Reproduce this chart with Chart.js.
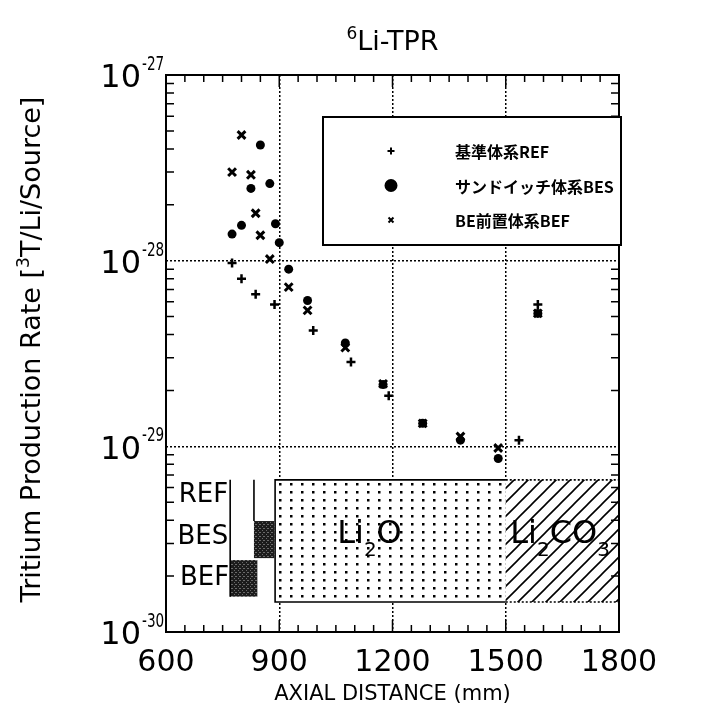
<!DOCTYPE html>
<html>
<head>
<meta charset="utf-8">
<script src="https://cdn.jsdelivr.net/npm/chart.js@4.4.1/dist/chart.umd.min.js"></script>
<style>
  html, body { margin: 0; padding: 0; background: #fff; }
  #wrap { width: 701px; height: 718px; }
</style>
</head>
<body>
<div id="wrap"><canvas id="c"></canvas></div>
<script>
// datos (mm, T/Li/Source)
const refX = [775, 800, 837.5, 887.5, 990, 1090, 1190, 1535, 1585];
const refY = [9.7e-29, 8.0e-29, 6.6e-29, 5.8e-29, 4.2e-29, 2.85e-29, 1.87e-29, 1.08e-29, 5.8e-29];

const besX = [775, 800, 825, 850, 875, 890, 900, 925, 975, 1075, 1175, 1280, 1380, 1480, 1585];
const besY = [1.39e-28, 1.55e-28, 2.45e-28, 4.2e-28, 2.6e-28, 1.58e-28, 1.25e-28, 9.0e-29, 6.1e-29, 3.6e-29, 2.15e-29, 1.33e-29, 1.08e-29, 8.6e-30, 5.2e-29];

const befX = [775, 800, 825, 837.5, 850, 875, 925, 975, 1075, 1175, 1280, 1380, 1480, 1585];
const befY = [3.0e-28, 4.75e-28, 2.9e-28, 1.8e-28, 1.37e-28, 1.02e-28, 7.2e-29, 5.4e-29, 3.4e-29, 2.17e-29, 1.33e-29, 1.13e-29, 9.8e-30, 5.2e-29];

const seriesLabels = ['基準体系REF', 'サンドイッチ体系BES', 'BE前置体系BEF'];
const xTicks = [600, 900, 1200, 1500, 1800];
const yDecades = [-30, -29, -28, -27];

const FONT = '"DejaVu Sans", sans-serif';

function toPoints(xs, ys) {
    return xs.map((x, i) => ({ x: x, y: ys[i] }));
}

// patrones de relleno
function makePattern(ctx, w, h, draw) {
    const c = document.createElement('canvas');
    c.width = w; c.height = h;
    const g = c.getContext('2d');
    draw(g);
    return ctx.createPattern(c, 'repeat');
}

function dots(ctx) {
    return makePattern(ctx, 11, 8, g => {
        g.fillStyle = '#fff'; g.fillRect(0, 0, 11, 8);
        g.fillStyle = '#000'; g.fillRect(4, 3, 2.5, 2.5);
    });
}

function hatch(ctx) {
    return makePattern(ctx, 14, 14, g => {
        g.fillStyle = '#fff'; g.fillRect(0, 0, 14, 14);
        g.strokeStyle = '#000'; g.lineWidth = 1.6;
        g.beginPath();
        g.moveTo(-2, 16); g.lineTo(16, -2);
        g.moveTo(-2, 2); g.lineTo(2, -2);
        g.moveTo(12, 16); g.lineTo(16, 12);
        g.stroke();
    });
}

function stipple(ctx) {
    return makePattern(ctx, 4, 4, g => {
        g.fillStyle = '#1c1c1c'; g.fillRect(0, 0, 4, 4);
        g.fillStyle = '#6a6a6a';
        g.fillRect(0, 0, 1, 1); g.fillRect(2, 2, 1, 1); g.fillRect(3, 0, 1, 1);
    });
}

// texto con subindices / superindices: partes [texto, tipo]
function richText(ctx, parts, x, y, size, align) {
    const small = Math.round(size * 0.62);
    let total = 0;
    parts.forEach(p => {
        ctx.font = (p[1] ? small : size) + 'px ' + FONT;
        total += ctx.measureText(p[0]).width;
    });
    let cx = align === 'center' ? x - total / 2 : x;
    ctx.textAlign = 'left';
    ctx.textBaseline = 'alphabetic';
    parts.forEach(p => {
        ctx.font = (p[1] ? small : size) + 'px ' + FONT;
        let dy = 0;
        if (p[1] === 'sup') dy = -size * 0.42;
        if (p[1] === 'sub') dy = size * 0.42;
        ctx.fillText(p[0], cx, y + dy);
        cx += ctx.measureText(p[0]).width;
    });
    return total;
}

// esquema del sistema (en unidades de datos)
const decoPlugin = {
    id: 'deco',
    beforeDatasetsDraw(chart) {
        const ctx = chart.ctx;
        const xs = chart.scales.x, ys = chart.scales.y;
        const px = v => xs.getPixelForValue(v);
        const py = v => ys.getPixelForValue(v);
        const top = py(6.6e-30), bot = py(1.45e-30);
        const right = chart.chartArea.right;

        ctx.save();
        // Li2O
        ctx.fillStyle = dots(ctx);
        ctx.fillRect(px(889), top, px(1500) - px(889), bot - top);
        // Li2CO3
        ctx.fillStyle = hatch(ctx);
        ctx.fillRect(px(1500), top, right - px(1500), bot - top);

        ctx.strokeStyle = '#000';
        ctx.lineWidth = 1.6;
        ctx.beginPath();
        ctx.moveTo(px(1500), top); ctx.lineTo(px(889), top);
        ctx.lineTo(px(889), bot); ctx.lineTo(px(1500), bot);
        ctx.stroke();
        ctx.setLineDash([2, 2]);
        ctx.beginPath();
        ctx.moveTo(px(1500), top); ctx.lineTo(right, top);
        ctx.moveTo(px(1500), bot); ctx.lineTo(right, bot);
        ctx.stroke();
        ctx.setLineDash([]);

        // bloques BE
        ctx.fillStyle = stipple(ctx);
        ctx.fillRect(px(770), py(2.44e-30), px(842) - px(770), py(1.55e-30) - py(2.44e-30));
        ctx.fillRect(px(833), py(3.96e-30), px(887) - px(833), py(2.5e-30) - py(3.96e-30));
        ctx.beginPath();
        ctx.moveTo(px(770), top); ctx.lineTo(px(770), py(1.55e-30));
        ctx.moveTo(px(833), top); ctx.lineTo(px(833), py(3.96e-30));
        ctx.stroke();

        ctx.fillStyle = '#000';
        ctx.font = '26px ' + FONT;
        ctx.textAlign = 'right';
        ctx.textBaseline = 'middle';
        ctx.fillText('REF', px(770) - 2, py(5.47e-30));
        ctx.fillText('BES', px(770) - 2, py(3.25e-30));
        ctx.fillText('BEF', px(770) - 1, py(1.95e-30));

        richText(ctx, [['Li'], ['2', 'sub'], ['O']], px(1139), py(3.02e-30), 32, 'center');
        richText(ctx, [['Li'], ['2', 'sub'], ['CO'], ['3', 'sub']], px(1644), py(3.02e-30), 32, 'center');
        ctx.restore();
    },
    afterDatasetsDraw(chart) {
        const ctx = chart.ctx;
        const a = chart.chartArea;
        const xs = chart.scales.x, ys = chart.scales.y;
        ctx.save();
        ctx.strokeStyle = '#000';
        ctx.fillStyle = '#000';

        // marcas menores hacia dentro
        ctx.lineWidth = 1.5;
        ctx.beginPath();
        for (let v = 650; v < 1800; v += 50) {
            const x = xs.getPixelForValue(v);
            const len = (v % 300 === 0) ? 12 : 7;
            ctx.moveTo(x, a.bottom); ctx.lineTo(x, a.bottom - len);
            ctx.moveTo(x, a.top); ctx.lineTo(x, a.top + len);
        }
        yDecades.slice(0, 3).forEach(d => {
            for (let m = 2; m <= 9; m++) {
                const y = ys.getPixelForValue(m * Math.pow(10, d));
                ctx.moveTo(a.left, y); ctx.lineTo(a.left + 8, y);
                ctx.moveTo(a.right, y); ctx.lineTo(a.right - 8, y);
            }
        });
        ctx.stroke();

        // marco
        ctx.lineWidth = 2;
        ctx.strokeRect(a.left, a.top, a.right - a.left, a.bottom - a.top);

        // leyenda
        const lx = a.left + 157, ly = a.top + 42;
        const lw = a.right + 2 - lx, lh = 128;
        ctx.fillStyle = '#fff';
        ctx.fillRect(lx, ly, lw, lh);
        ctx.strokeRect(lx, ly, lw, lh);
        ctx.fillStyle = '#000';
        ctx.font = 'bold 16px "Noto Sans CJK JP", sans-serif';
        ctx.textAlign = 'left';
        ctx.textBaseline = 'middle';
        chart.data.datasets.forEach((ds, i) => {
            const y = ly + 34 + i * 34.5;
            const style = {
                pointStyle: ds.pointStyle,
                radius: i === 1 ? 5.5 : 3.5,
                borderWidth: 2,
                rotation: 0
            };
            ctx.strokeStyle = '#000';
            ctx.fillStyle = '#000';
            Chart.helpers.drawPoint(ctx, style, lx + 68, y);
            ctx.fillText(ds.label, lx + 132, y + 1);
        });

        // etiquetas del eje y: 10^n (exponente estrecho)
        ctx.fillStyle = '#000';
        yDecades.forEach(d => {
            const y = ys.getPixelForValue(Math.pow(10, d));
            ctx.font = '32px ' + FONT;
            ctx.textAlign = 'right';
            ctx.textBaseline = 'middle';
            ctx.fillText('10', a.left - 25, y + 4);
            ctx.save();
            ctx.translate(a.left - 24, y - 5);
            ctx.scale(0.68, 1);
            ctx.font = '20px ' + FONT;
            ctx.textAlign = 'left';
            ctx.textBaseline = 'alphabetic';
            ctx.fillText(String(d), 0, 0);
            ctx.restore();
        });

        // titulo del eje y
        ctx.save();
        ctx.translate(31, (a.top + a.bottom) / 2 - 4);
        ctx.rotate(-Math.PI / 2);
        richText(ctx, [['Tritium Production Rate ['], ['3', 'sup'], ['T/Li/Source]']], 0, 9, 27, 'center');
        ctx.restore();

        // titulo
        richText(ctx, [['6', 'sup'], ['Li-TPR']], (a.left + a.right) / 2, 50, 27, 'center');
        ctx.restore();
    }
};

const chart = new Chart(document.getElementById('c'), {
    type: 'scatter',
    data: {
        datasets: [
            {
                label: seriesLabels[0],
                data: toPoints(refX, refY),
                pointStyle: 'cross',
                pointRadius: 4.5,
                borderWidth: 2.5,
                borderColor: '#000',
                backgroundColor: '#000'
            },
            {
                label: seriesLabels[1],
                data: toPoints(besX, besY),
                pointStyle: 'circle',
                pointRadius: 4.5,
                borderWidth: 0,
                borderColor: '#000',
                backgroundColor: '#000'
            },
            {
                label: seriesLabels[2],
                data: toPoints(befX, befY),
                pointStyle: 'crossRot',
                pointRadius: 5.5,
                borderWidth: 3,
                borderColor: '#000',
                backgroundColor: '#000'
            }
        ]
    },
    options: {
        responsive: true,
        maintainAspectRatio: false,
        animation: false,
        devicePixelRatio: 1,
        layout: { padding: { top: 75, right: 82, left: 0, bottom: 0 } },
        plugins: {
            legend: { display: false },
            tooltip: { enabled: false },
            title: { display: false }
        },
        scales: {
            x: {
                type: 'linear',
                min: 600,
                max: 1800,
                afterBuildTicks: s => { s.ticks = xTicks.map(v => ({ value: v })); },
                afterFit: s => { s.height = 86; },
                ticks: {
                    color: '#000',
                    padding: 13,
                    font: { family: FONT, size: 30 },
                    callback: v => String(v)
                },
                grid: { color: '#000', lineWidth: 1.5, drawTicks: false },
                border: { display: false, dash: [2, 2] },
                title: {
                    display: true,
                    text: 'AXIAL DISTANCE (mm)',
                    color: '#000',
                    font: { family: FONT, size: 21 },
                    padding: { top: 0, bottom: 11 }
                }
            },
            y: {
                type: 'logarithmic',
                min: 1e-30,
                max: 1e-27,
                afterBuildTicks: s => { s.ticks = yDecades.map(d => ({ value: Math.pow(10, d) })); },
                afterFit: s => { s.width = 166; },
                ticks: { display: false },
                grid: { color: '#000', lineWidth: 1.5, drawTicks: false },
                border: { display: false, dash: [2, 2] }
            }
        }
    },
    plugins: [decoPlugin]
});
</script>
</body>
</html>
